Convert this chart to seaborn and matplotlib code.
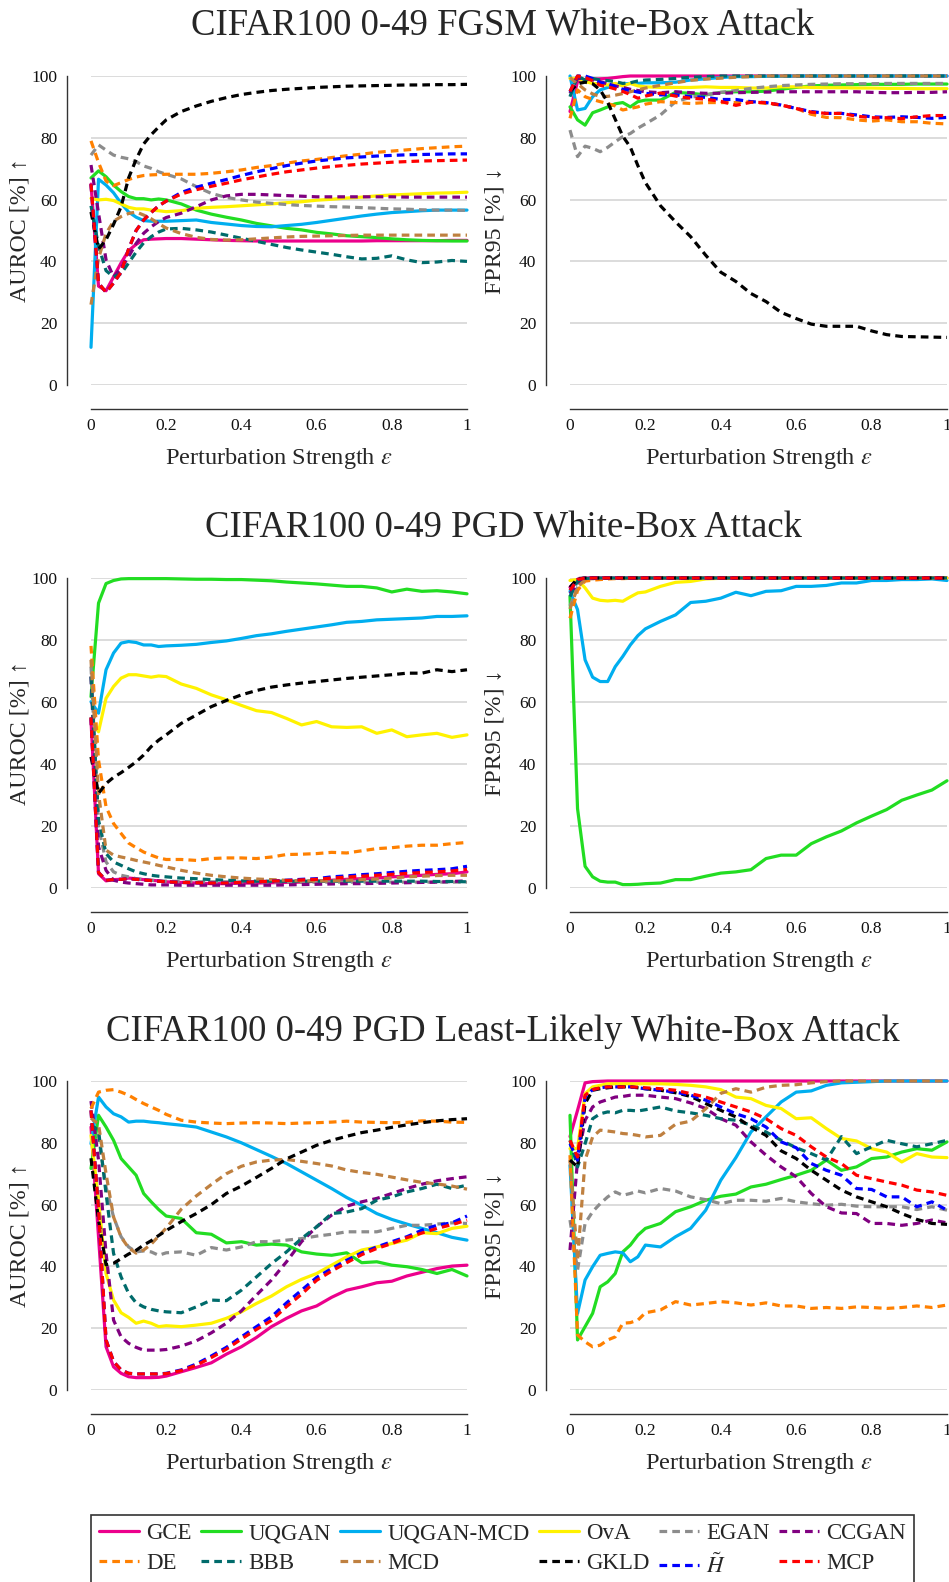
import matplotlib
matplotlib.use("Agg")
import matplotlib.pyplot as plt
from matplotlib.lines import Line2D
import pandas as pd
import seaborn as sns

# ---------------------------------------------------------------- data
EPS = [0, 0.02, 0.04, 0.06, 0.08, 0.10, 0.12, 0.14, 0.16, 0.18, 0.20, 0.24, 0.28,
       0.32, 0.36, 0.40, 0.44, 0.48, 0.52, 0.56, 0.60, 0.64, 0.68, 0.72, 0.76, 0.80,
       0.84, 0.88, 0.92, 0.96, 1.0]
XTICKS = [0, 0.2, 0.4, 0.6, 0.8, 1.0]
XTICKLABELS = ["0", "0.2", "0.4", "0.6", "0.8", "1"]
YTICKS = [0, 20, 40, 60, 80, 100]

METHODS = ["GCE", "UQGAN", "UQGAN-MCD", "OvA", "EGAN", "CCGAN",
           "DE", "BBB", "MCD", "GKLD", r"$\tilde{H}$", "MCP"]
COLORS = ["#ec008c", "#22dd22", "#00aeef", "#fff200", "#8c8c8c", "#800080",
          "#ff8000", "#006b6b", "#bf8040", "#000000", "#0000ff", "#ff0000"]
SOLID = ["GCE", "UQGAN", "UQGAN-MCD", "OvA"]

TITLES = ["CIFAR100 0-49 FGSM White-Box Attack",
          "CIFAR100 0-49 PGD White-Box Attack",
          "CIFAR100 0-49 PGD Least-Likely White-Box Attack"]
YLABELS = [r"AUROC [%] ↑", r"FPR95 [%] ↓"]
XLABEL = r"Perturbation Strength $\epsilon$"

# FGSM, AUROC
fa_gce = [65, 32, 30.5, 35, 39.5, 43.5, 45.5, 47, 47.2, 47.3, 47.4, 47.4, 47.2, 47, 46.8, 46.7, 46.6, 46.6, 46.6, 46.6, 46.6, 46.6, 46.6, 46.6, 46.7, 46.7, 46.7, 46.7, 46.7, 46.8, 46.8]
fa_uqgan = [67, 69.3, 67.4, 64.7, 62.6, 61, 60.3, 60.3, 59.9, 60.2, 59.9, 58.6, 56.6, 55.3, 54.3, 53.4, 52.3, 51.5, 50.7, 50.2, 49.4, 48.9, 48.3, 48, 47.7, 47.3, 47, 46.8, 46.7, 46.6, 46.6]
fa_uqganmcd = [12.2, 66.6, 64.7, 62.2, 58.8, 56, 54.3, 53.2, 53, 53, 53, 53.2, 53.4, 52.6, 52.1, 51.6, 51.3, 51.2, 51.6, 52, 52.6, 53.3, 54, 54.7, 55.3, 55.8, 56.1, 56.4, 56.6, 56.6, 56.6]
fa_ova = [60.4, 59.9, 60.1, 59.7, 58.6, 57.5, 57, 57, 56.6, 56.4, 56.1, 56.4, 57.2, 57.5, 57.7, 58, 58.3, 58.6, 59, 59.3, 59.8, 60.1, 60.5, 60.8, 61.2, 61.5, 61.7, 61.9, 62.1, 62.2, 62.4]
fa_egan = [74.4, 77.7, 76, 74.4, 73.7, 73.2, 72.3, 70.9, 70.1, 69, 68.2, 66.7, 64.2, 62, 60.7, 59.9, 59.2, 58.8, 58.4, 58.1, 57.9, 57.7, 57.6, 57.4, 57.2, 57, 56.9, 56.7, 56.6, 56.6, 56.5]
fa_ccgan = [71.2, 55.6, 40.5, 35, 37.8, 41.5, 45.8, 49.1, 51.2, 52.9, 54.2, 55.6, 57.7, 59.9, 61.2, 61.7, 61.7, 61.5, 61.3, 61.1, 60.9, 60.9, 60.9, 60.9, 60.9, 60.9, 60.8, 60.8, 60.8, 60.8, 60.8]
fa_de = [79, 72, 66, 64.5, 65.5, 66.5, 67.3, 67.8, 68, 68.1, 68.2, 68.2, 68.2, 68.5, 69, 69.6, 70.4, 71, 71.8, 72.5, 73, 73.6, 74.2, 74.7, 75.3, 75.7, 76.1, 76.5, 76.8, 77.1, 77.3]
fa_bbb = [58, 45, 37, 35, 36, 39.5, 43, 46, 48, 49.5, 50.5, 50.7, 50.2, 49.5, 48.5, 47.5, 46.5, 45.5, 44.5, 43.7, 43, 42.3, 41.5, 40.8, 41, 41.8, 40.5, 39.6, 39.8, 40.3, 40]
fa_mcd = [26, 41, 49, 53, 54.5, 55.5, 56, 55, 53.8, 52.2, 50.8, 49, 47.8, 47.1, 46.9, 47, 47.3, 47.6, 47.9, 48.1, 48.2, 48.3, 48.4, 48.5, 48.5, 48.5, 48.5, 48.5, 48.5, 48.5, 48.5]
fa_gkld = [56, 44, 47, 52, 57.7, 67, 73, 78, 81, 83.5, 85.8, 88.5, 90.3, 91.8, 93, 94, 94.7, 95.3, 95.7, 96, 96.3, 96.5, 96.7, 96.8, 96.9, 97, 97.1, 97.1, 97.2, 97.2, 97.3]
fa_ht = [65, 33, 30, 33, 36.5, 44, 50, 53.4, 55.8, 58, 59.5, 62.3, 64, 65.3, 66.5, 67.8, 69, 70, 71, 71.8, 72.5, 73, 73.5, 73.8, 74.1, 74.3, 74.5, 74.6, 74.7, 74.8, 74.8]
fa_mcp = [65, 33, 30, 33, 36.5, 44, 50, 53.4, 55.8, 58, 59.5, 61.8, 63.2, 64.3, 65.3, 66.4, 67.3, 68.2, 69, 69.6, 70.2, 70.7, 71.1, 71.5, 71.8, 72.1, 72.3, 72.5, 72.6, 72.7, 72.8]

# FGSM, FPR95
ff_gce = [88.5, 98.2, 98.7, 99, 99.1, 99.2, 99.5, 99.8, 100, 100, 100, 100, 100, 100, 100, 100, 100, 100, 100, 100, 100, 100, 100, 100, 100, 100, 100, 100, 100, 100, 100]
ff_uqgan = [90, 85.8, 84.1, 88.1, 89, 90, 91, 91.4, 90, 91.7, 92.2, 92.2, 94.7, 94.4, 93.9, 94.7, 94.9, 94.9, 95.1, 95.7, 96.3, 96.8, 97, 97.1, 97.2, 97.3, 97.3, 97.3, 97.4, 97.4, 97.4]
ff_uqganmcd = [100, 89, 89.5, 93.3, 95.5, 96.3, 97, 97.4, 97.6, 97.6, 97.8, 97.8, 98, 98.7, 99.1, 99.5, 99.8, 99.8, 99.9, 99.9, 100, 100, 100, 100, 100, 100, 100, 100, 100, 100, 100]
ff_ova = [99.2, 99.2, 98.2, 97.6, 97.4, 97.1, 97.6, 96.8, 97.6, 96.8, 96.5, 96.3, 96.3, 96.3, 96.5, 96.3, 96.3, 96.1, 96.1, 96.5, 96.5, 96.3, 96.2, 96.2, 96.1, 96.1, 96, 96, 95.9, 95.9, 95.9]
ff_egan = [82.5, 73.9, 77.3, 76.6, 75.5, 76.9, 78.7, 80.4, 81.4, 83.1, 84.5, 87.4, 91.7, 93.1, 93.9, 94.7, 95.3, 96, 96.5, 96.9, 97.1, 97.3, 97.4, 97.5, 97.5, 97.5, 97.6, 97.6, 97.6, 97.6, 97.6]
ff_ccgan = [94.4, 99.2, 99.2, 98.7, 98.2, 97.4, 96.8, 96.3, 95.7, 95.3, 94.9, 94.6, 94.9, 94.6, 94.4, 94.4, 94.6, 94.7, 94.8, 94.9, 94.9, 94.9, 94.9, 94.9, 94.9, 94.7, 94.6, 94.6, 94.7, 94.7, 94.9]
ff_de = [86.3, 95.5, 93.3, 92.4, 91.7, 91.1, 90.3, 89, 89.5, 90, 90.9, 91.7, 91.4, 91.1, 91.4, 91.4, 91.4, 91.7, 91.1, 90.6, 89.5, 87.6, 86.6, 86.5, 85.8, 85.4, 85.8, 85.2, 85.2, 84.7, 84.5]
ff_bbb = [93.3, 100, 98.7, 99.2, 98.7, 98.5, 98.2, 97.6, 97.8, 98.4, 98.7, 98.9, 99.2, 99.6, 99.8, 100, 100, 100, 100, 100, 100, 100, 100, 100, 100, 100, 100, 100, 100, 100, 100]
ff_mcd = [99.5, 97.5, 95.5, 94.2, 93.4, 93.4, 93.8, 94.3, 94.9, 95.5, 96.1, 97, 97.8, 98.6, 99, 99.3, 99.6, 99.8, 100, 100, 100, 100, 100, 100, 100, 100, 100, 100, 100, 100, 100]
ff_gkld = [95, 97.5, 98, 97.5, 95.5, 91.5, 86, 80.5, 77, 71, 65.5, 58, 52.8, 48, 42, 36.5, 33.5, 29.6, 27, 23.5, 21.5, 19.7, 19, 19, 19, 17.5, 16.3, 15.7, 15.6, 15.5, 15.4]
ff_ht = [94.9, 100, 100, 99.2, 97.8, 97.6, 96.5, 95.7, 95.3, 94.8, 94.4, 93.9, 93.9, 93.3, 93.1, 92.4, 92.4, 91.7, 91.4, 90.6, 89.5, 88.5, 87.9, 87.9, 87.4, 86.8, 86.6, 86.8, 86.6, 86.3, 86.6]
ff_mcp = [95, 100, 99.5, 98.5, 97, 96.5, 95.8, 95, 94, 92.8, 93.5, 94.5, 93.5, 92.8, 92.5, 91.8, 90.5, 91.5, 91.4, 90.6, 89.5, 88.3, 87.9, 87.9, 87, 86.5, 86.5, 86.2, 86.8, 87.2, 87.2]

# PGD, AUROC
pa_gce = [54.2, 4.6, 2.3, 2.7, 2.8, 3.2, 3, 2.7, 2.5, 2.3, 2, 1.8, 1.6, 1.4, 1.4, 1.6, 1.6, 1.7, 1.8, 1.9, 2.2, 2.5, 2.8, 3, 3.2, 3.6, 3.8, 4.1, 4.4, 4.6, 5.2]
pa_uqgan = [61.7, 91.9, 98.2, 99.2, 99.7, 99.8, 99.8, 99.8, 99.8, 99.8, 99.8, 99.7, 99.6, 99.6, 99.5, 99.5, 99.3, 99.1, 98.7, 98.4, 98.1, 97.7, 97.3, 97.3, 96.8, 95.5, 96.4, 95.7, 95.9, 95.5, 94.9]
pa_uqganmcd = [60.1, 56.4, 70.4, 75.8, 79, 79.5, 79.2, 78.4, 78.4, 77.9, 78.1, 78.3, 78.6, 79.2, 79.7, 80.5, 81.4, 82, 82.8, 83.5, 84.2, 84.9, 85.7, 86, 86.5, 86.7, 86.9, 87.1, 87.6, 87.6, 87.8]
pa_ova = [54.7, 50.4, 61.2, 65, 67.7, 68.8, 68.8, 68.4, 68, 68.4, 68.2, 65.8, 64.4, 62.3, 60.7, 58.9, 57.2, 56.6, 54.7, 52.6, 53.7, 52, 51.8, 52, 49.9, 51, 48.8, 49.4, 49.9, 48.6, 49.4]
pa_egan = [71.4, 19.7, 8.4, 5.2, 4.1, 3.6, 3, 2.7, 2.5, 2.3, 2.2, 2.1, 2, 2, 2, 1.9, 1.9, 1.9, 1.9, 1.9, 1.9, 1.9, 1.9, 1.9, 1.9, 1.9, 1.9, 1.9, 1.9, 1.9, 1.9]
pa_ccgan = [68.2, 13.3, 5.7, 2.5, 1.9, 1.6, 1.4, 1.2, 1, 1, 1, 0.9, 0.9, 0.9, 0.9, 0.9, 0.9, 0.9, 1, 1.1, 1.2, 1.3, 1.4, 1.4, 1.5, 1.6, 1.7, 1.8, 1.9, 2.1, 2.3]
pa_de = [78.1, 41.3, 26.2, 20.8, 17.6, 14.5, 13, 11.6, 10.6, 9.7, 9.2, 9.2, 8.9, 9.5, 9.7, 9.7, 9.5, 10, 10.8, 10.9, 11.1, 11.5, 11.3, 12, 12.7, 13, 13.5, 13.8, 13.8, 14.3, 14.7]
pa_bbb = [68.2, 21.9, 11.1, 8.4, 7.3, 6.2, 5.2, 4.6, 4.1, 3.8, 3.6, 3.2, 3, 2.7, 2.5, 2.3, 2.2, 2.2, 2.2, 2.2, 2.2, 2.2, 2.2, 2.2, 2.2, 2.2, 2.2, 2.2, 2.1, 2.1, 2]
pa_mcd = [73.6, 30.5, 12.2, 10.6, 10, 9.5, 8.9, 8.4, 7.9, 7.3, 6.8, 5.7, 4.8, 4.1, 3.6, 3.2, 2.9, 2.7, 2.5, 2.3, 2.3, 2.3, 2.5, 2.7, 2.9, 3.2, 3.6, 3.8, 4, 4.1, 4.1]
pa_gkld = [42.3, 30.5, 33.7, 35.7, 37.2, 38.9, 40.7, 42.9, 45.6, 47.7, 49.4, 53.1, 55.8, 58.5, 60.5, 62.3, 63.7, 64.8, 65.5, 66.1, 66.6, 67.1, 67.6, 68, 68.4, 68.8, 69.3, 69.3, 70.4, 69.8, 70.4]
pa_ht = [55, 5, 2.5, 2.7, 2.8, 3, 2.8, 2.6, 2.4, 2.2, 2, 1.8, 1.7, 1.6, 1.6, 1.8, 2, 2.2, 2.5, 2.8, 3, 3.6, 3.9, 4.3, 4.6, 5, 5.4, 5.7, 5.9, 6.2, 7]
pa_mcp = [55, 5, 2.5, 2.7, 2.8, 3, 2.8, 2.6, 2.4, 2.2, 2, 1.8, 1.7, 1.6, 1.6, 1.8, 2, 2.2, 2.4, 2.6, 2.8, 3.2, 3.5, 3.8, 4.1, 4.4, 4.7, 5, 5.2, 5.5, 6]

# PGD, FPR95
pf_gce = [97, 99.6, 100, 100, 100, 100, 100, 100, 100, 100, 100, 100, 100, 100, 100, 100, 100, 100, 100, 100, 100, 100, 100, 100, 100, 100, 100, 100, 100, 100, 100]
pf_uqgan = [94.1, 25.6, 7, 3.6, 2.2, 1.9, 1.9, 1.1, 1.1, 1.2, 1.4, 1.6, 2.7, 2.7, 3.8, 4.8, 5.2, 5.9, 9.5, 10.6, 10.6, 14.3, 16.5, 18.4, 21, 23.2, 25.3, 28.3, 30, 31.6, 34.6]
pf_uqganmcd = [95.7, 89.8, 73.6, 68, 66.6, 66.6, 71.4, 74.7, 78.4, 81.4, 83.6, 86, 88.1, 92.1, 92.5, 93.5, 95.4, 94.3, 95.7, 95.9, 97.3, 97.3, 97.6, 98.4, 98.4, 99.2, 99.2, 99.5, 99.5, 99.7, 99.2]
pf_ova = [99.2, 99.5, 96.8, 93.5, 92.8, 92.6, 92.8, 92.5, 93.9, 95.2, 95.5, 97.3, 98.6, 98.9, 99.7, 99.9, 100, 100, 100, 100, 100, 100, 100, 100, 100, 100, 100, 100, 100, 100, 100]
pf_egan = [91, 97, 99.5, 99.8, 100, 100, 100, 100, 100, 100, 100, 100, 100, 100, 100, 100, 100, 100, 100, 100, 100, 100, 100, 100, 100, 100, 100, 100, 100, 100, 100]
pf_ccgan = [95, 98, 99.7, 100, 100, 100, 100, 100, 100, 100, 100, 100, 100, 100, 100, 100, 100, 100, 100, 100, 100, 100, 100, 100, 100, 100, 100, 100, 100, 100, 100]
pf_de = [87, 96, 99, 99.3, 99.5, 99.7, 99.8, 99.8, 99.9, 100, 100, 100, 100, 100, 100, 100, 100, 100, 100, 100, 100, 100, 100, 100, 100, 100, 100, 100, 100, 100, 100]
pf_bbb = [94, 99, 99.8, 100, 100, 100, 100, 100, 100, 100, 100, 100, 100, 100, 100, 100, 100, 100, 100, 100, 100, 100, 100, 100, 100, 100, 100, 100, 100, 100, 100]
pf_mcd = [90, 97, 99.5, 99.8, 100, 100, 100, 100, 100, 100, 100, 100, 100, 100, 100, 100, 100, 100, 100, 100, 100, 100, 100, 100, 100, 100, 100, 100, 100, 100, 100]
pf_gkld = [97, 99.8, 100, 100, 100, 100, 100, 100, 100, 100, 100, 100, 100, 100, 100, 100, 100, 100, 100, 100, 100, 100, 100, 100, 100, 100, 100, 100, 100, 100, 100]
pf_ht = [96, 99.5, 100, 100, 100, 100, 100, 100, 100, 100, 100, 100, 100, 100, 100, 100, 100, 100, 100, 100, 100, 100, 100, 100, 100, 100, 100, 100, 100, 100, 100]
pf_mcp = [96, 99.5, 100, 100, 100, 100, 100, 100, 100, 100, 100, 100, 100, 100, 100, 100, 100, 100, 100, 100, 100, 100, 100, 100, 100, 100, 100, 100, 100, 100, 100]

# PGD least-likely, AUROC
la_gce = [85.1, 49.6, 14, 7.5, 5.4, 4.3, 4, 4, 4, 4.1, 4.5, 5.9, 7.3, 8.8, 11.6, 14, 17, 20.5, 23.2, 25.6, 27.2, 30, 32.3, 33.4, 34.7, 35.2, 36.9, 38.1, 39.3, 40.1, 40.4]
la_uqgan = [71.7, 88.9, 85.1, 80.8, 74.9, 72.2, 69.5, 63.6, 60.9, 58.4, 56.3, 55.5, 50.9, 50.4, 47.6, 48, 46.9, 47.2, 46.9, 44.7, 44, 43.6, 44.4, 41.2, 41.5, 40.4, 39.9, 39, 37.7, 39, 36.9]
la_uqganmcd = [79.7, 94.8, 91.6, 89.4, 88.4, 86.7, 87, 87, 86.7, 86.5, 86.2, 85.7, 85.1, 83.5, 81.9, 80, 77.8, 75.6, 73.3, 70.6, 67.9, 65.2, 62.3, 59.8, 57.1, 55.2, 53.7, 52.3, 50.9, 49.4, 48.5]
la_ova = [82.4, 61.4, 37.7, 29.1, 25, 23.5, 21.6, 22.3, 21.6, 20.5, 20.8, 20.5, 21, 21.6, 23.2, 25.3, 28, 30.4, 33.4, 35.8, 37.7, 40.4, 43.1, 45.3, 46.3, 47.4, 48.5, 50.9, 50.6, 52.3, 53]
la_egan = [86.2, 81.9, 65.7, 56, 49.6, 46.3, 44.7, 45, 44.7, 43.6, 44.4, 44.7, 43.6, 46.1, 45.3, 46.3, 48, 48, 48.5, 49, 49.8, 50.4, 51.2, 51.2, 51.2, 52.3, 53.3, 53.3, 53.7, 54.1, 53.9]
la_ccgan = [93.5, 74.4, 44.2, 22.6, 17.2, 15.1, 13.8, 12.9, 12.9, 12.9, 13.1, 14.2, 15.9, 18.5, 21.6, 25.6, 30.7, 35.6, 41.5, 48, 52.8, 56.6, 59.5, 60.9, 62, 63.6, 65.2, 66.6, 67.7, 68.4, 69]
la_de = [91.1, 96.4, 97, 97.2, 96.4, 95.4, 94, 92.7, 91.6, 90.5, 89.2, 87.3, 86.7, 86.4, 86.2, 86.4, 86.5, 86.4, 86.2, 86.4, 86.5, 86.7, 87, 86.7, 86.6, 86.5, 86.6, 87.1, 87, 86.7, 86.6]
la_bbb = [85.7, 84.1, 63.6, 44.2, 36.6, 31.3, 28.2, 26.9, 26.1, 25.6, 25.3, 25, 26.9, 29.1, 28.9, 32.3, 36.6, 40.9, 44.7, 49, 52.8, 57.1, 57.6, 58.7, 61.4, 62.5, 64.1, 65.2, 66.6, 65.2, 66.3]
la_mcd = [88, 86, 70, 56, 49.5, 46, 44.3, 45.3, 47.2, 49.8, 52.4, 58.5, 62.8, 66.5, 70, 72.4, 73.8, 74.4, 74.6, 74, 73.3, 72.5, 71.2, 70.4, 69.8, 68.9, 68, 67.2, 66.7, 66, 65]
la_gkld = [75, 55, 40.5, 41, 42.5, 44, 45.2, 46.9, 48.3, 50, 51.6, 54.5, 57.1, 60, 63.6, 66, 68.8, 71.7, 74.8, 77, 79.2, 80.8, 82.1, 83.3, 84.1, 85, 85.8, 86.5, 87.1, 87.5, 87.8]
la_ht = [90.5, 58.2, 16.2, 9.2, 6.5, 5.4, 5.2, 5.2, 5.2, 5.2, 5.4, 6.5, 8.4, 11, 13.8, 17.2, 20.5, 23.7, 28.2, 32.3, 36.4, 39.3, 42, 44.4, 46.3, 48, 49.6, 51.7, 53.3, 54.1, 56.3]
la_mcp = [90.5, 58.2, 16.2, 9.2, 6.5, 5.4, 5.2, 5.2, 5.2, 5.2, 5.3, 6.3, 8, 10.5, 13.2, 16.5, 19.6, 22.5, 27, 31, 35.5, 38.5, 41.2, 43.8, 45.8, 47.4, 49.3, 50.8, 52.3, 53.5, 55]

# PGD least-likely, FPR95
lf_gce = [82, 90.5, 99.4, 99.8, 99.9, 100, 100, 100, 100, 100, 100, 100, 100, 100, 100, 100, 100, 100, 100, 100, 100, 100, 100, 100, 100, 100, 100, 100, 100, 100, 100]
lf_uqgan = [88.9, 16.2, 20.5, 24.8, 33.4, 35, 37.7, 44.7, 46.9, 50.1, 52.3, 53.9, 57.7, 59.3, 61.4, 62.7, 63.4, 65.7, 66.6, 68.1, 69.5, 71.1, 74.4, 71.1, 72.2, 74.9, 75.4, 77, 78.1, 77.6, 80.3]
lf_uqganmcd = [72.7, 24.8, 35.6, 39.9, 43.6, 44.2, 44.7, 44.4, 41.5, 43.1, 46.9, 46.3, 49.6, 52.3, 58.2, 67.9, 75.2, 83.5, 88.4, 93.2, 96.4, 96.8, 98.6, 99.4, 99.6, 99.8, 100, 100, 100, 100, 100]
lf_ova = [78.1, 78.1, 95.9, 98.1, 98.6, 99.1, 99.1, 99.1, 99.1, 99.1, 99.1, 99.1, 98.9, 98.6, 98.1, 97.2, 94.8, 94.3, 92.1, 91.1, 87.8, 88.1, 84.6, 81.4, 80.6, 78.1, 77, 73.8, 76.5, 75.4, 75.2]
lf_egan = [55, 38.8, 53.9, 57.7, 60.3, 62.5, 64.1, 63, 63.6, 64.4, 63.8, 65.2, 64.4, 62.5, 61.6, 60.3, 61.4, 61.4, 61.1, 62, 60.9, 60.3, 59.8, 60.1, 59.5, 59.3, 59.3, 59.3, 58.4, 59.3, 58.2]
lf_ccgan = [45.3, 74.4, 87.3, 91.6, 93.2, 94, 94.8, 95, 95.4, 95.4, 95.4, 94.8, 94.3, 92.9, 91.1, 87.8, 85.7, 80.3, 76, 72.2, 69, 63.6, 59.3, 57.3, 57.1, 53.9, 53.9, 53.3, 53.9, 55, 54.1]
lf_de = [76, 17.8, 15.6, 14, 14.5, 16.2, 17.2, 21.6, 21.8, 22.6, 25, 25.9, 28.6, 27.5, 28, 28.6, 28.2, 27.5, 28.2, 27.2, 27.2, 26.4, 26.7, 26.4, 26.9, 26.7, 26.4, 26.7, 27.2, 26.7, 27.5]
lf_bbb = [80.8, 72.2, 79.7, 87.8, 89.4, 90, 89.7, 90.5, 90.5, 90.3, 90.7, 91.6, 90.3, 89.7, 88.9, 87.8, 87.3, 85.7, 83.5, 80.8, 78.4, 76.5, 74.4, 82, 76.5, 78.7, 80.8, 79.7, 78.7, 79.7, 80.8]
lf_mcd = [74.4, 42, 74.4, 81.9, 84.1, 83.8, 83.5, 83, 82.8, 82.4, 81.9, 82.4, 86, 87, 91, 96, 97.5, 96.4, 98, 98.6, 98.8, 99.4, 99.8, 100, 100, 100, 100, 100, 100, 100, 100]
lf_gkld = [74.4, 72.2, 92.7, 97, 97.5, 97.8, 98.1, 98.1, 98.1, 97.8, 97.5, 97, 96.2, 95, 92.7, 90.5, 88.4, 85.1, 82.4, 77.4, 74.9, 71.1, 67.9, 64.7, 62.5, 60.9, 59.3, 57.1, 55.2, 53.9, 53.6]
lf_ht = [79.7, 74.4, 94.8, 97.2, 97.8, 98.1, 98.1, 98.1, 98.1, 97.8, 97.5, 97, 96.4, 95.4, 93.8, 91.6, 89.4, 87.8, 85.1, 80.3, 78.4, 73.3, 71.1, 69.5, 65.2, 64.9, 62.5, 62.5, 59.3, 60.9, 58.2]
lf_mcp = [80.8, 75.4, 95.4, 97.2, 97.8, 98.1, 98.1, 98.1, 98.1, 98, 97.8, 97.5, 97, 95.9, 94.8, 93.2, 91.6, 90, 87.8, 84.6, 82.4, 78.7, 75.4, 73.3, 69.5, 68.4, 67.3, 66.3, 64.7, 64.1, 63]

PANELS = [
    [fa_gce, fa_uqgan, fa_uqganmcd, fa_ova, fa_egan, fa_ccgan, fa_de, fa_bbb, fa_mcd, fa_gkld, fa_ht, fa_mcp],
    [ff_gce, ff_uqgan, ff_uqganmcd, ff_ova, ff_egan, ff_ccgan, ff_de, ff_bbb, ff_mcd, ff_gkld, ff_ht, ff_mcp],
    [pa_gce, pa_uqgan, pa_uqganmcd, pa_ova, pa_egan, pa_ccgan, pa_de, pa_bbb, pa_mcd, pa_gkld, pa_ht, pa_mcp],
    [pf_gce, pf_uqgan, pf_uqganmcd, pf_ova, pf_egan, pf_ccgan, pf_de, pf_bbb, pf_mcd, pf_gkld, pf_ht, pf_mcp],
    [la_gce, la_uqgan, la_uqganmcd, la_ova, la_egan, la_ccgan, la_de, la_bbb, la_mcd, la_gkld, la_ht, la_mcp],
    [lf_gce, lf_uqgan, lf_uqganmcd, lf_ova, lf_egan, lf_ccgan, lf_de, lf_bbb, lf_mcd, lf_gkld, lf_ht, lf_mcp],
]

# ---------------------------------------------------------------- style
sns.set_style("white")
plt.rcParams["font.family"] = ["Liberation Serif", "DejaVu Serif"]
plt.rcParams["mathtext.fontset"] = "stix"

DASH = (2.4, 1.6)
PALETTE = dict(zip(METHODS, COLORS))
DASHES = {m: ("" if m in SOLID else DASH) for m in METHODS}
LW = 2.3
AXCOL = "#333333"

W, H = 949, 1582
fig = plt.figure(figsize=(W / 100, H / 100), dpi=100)

COL_X = [(91, 467), (570, 947)]
ROW_Y = [(76, 385), (578, 888), (1081, 1390)]
TITLE_BASE = [36, 538, 1041]
YLABEL_X = [20, 495]
XLABEL_DROP = 79  # px from the zero line down to the x-label baseline

for i, series in enumerate(PANELS):
    r, c = divmod(i, 2)
    x0, x1 = COL_X[c]
    y0, y1 = ROW_Y[r]
    ax = fig.add_axes([x0 / W, 1 - y1 / H, (x1 - x0) / W, (y1 - y0) / H])

    df = pd.DataFrame({
        "eps": EPS * len(METHODS),
        "value": [v for s in series for v in s],
        "method": [m for m in METHODS for _ in EPS],
    })
    sns.lineplot(data=df, x="eps", y="value", hue="method", style="method",
                 hue_order=METHODS, style_order=METHODS, palette=PALETTE,
                 dashes=DASHES, estimator=None, errorbar=None, sort=False,
                 legend=False, linewidth=LW, clip_on=False, ax=ax)

    ax.set_xlim(0, 1)
    ax.set_ylim(0, 100)
    ax.set_xticks(XTICKS)
    ax.set_xticklabels(XTICKLABELS)
    ax.set_yticks(YTICKS)
    ax.set_axisbelow(True)
    ax.yaxis.grid(True, color="#d2d2d2", lw=1.1)
    ax.xaxis.grid(False)

    for side in ("top", "right"):
        ax.spines[side].set_visible(False)
    for side in ("left", "bottom"):
        ax.spines[side].set_position(("outward", 17.3))
        ax.spines[side].set_color(AXCOL)
        ax.spines[side].set_linewidth(1.0)

    ax.tick_params(axis="both", direction="in", length=6.5, width=1.0,
                   color=AXCOL, labelsize=12.5, labelcolor="#111111")
    ax.tick_params(axis="y", pad=7)
    ax.tick_params(axis="x", pad=6.5)

    ax.set_xlabel(XLABEL, fontsize=17.6, va="baseline", ha="center")
    ax.xaxis.set_label_coords(0.5, -XLABEL_DROP / (y1 - y0))
    ax.set_ylabel(YLABELS[c], fontsize=17.2, va="center", ha="center")
    ax.yaxis.set_label_coords((YLABEL_X[c] - x0) / (x1 - x0), 0.5)

for r in range(3):
    fig.text(503 / W, 1 - TITLE_BASE[r] / H, TITLES[r], fontsize=26.5,
             ha="center", va="baseline")

# legend laid out row by row (matplotlib fills columns first)
ORDER = ["GCE", "DE", "UQGAN", "BBB", "UQGAN-MCD", "MCD",
         "OvA", "GKLD", "EGAN", r"$\tilde{H}$", "CCGAN", "MCP"]
handles = []
for m in ORDER:
    h = Line2D([0], [0], color=PALETTE[m], lw=LW)
    if m not in SOLID:
        h.set_dashes(DASH)
    handles.append(h)
leg = fig.legend(handles, ORDER, ncol=6, loc="upper left",
                 bbox_to_anchor=(91 / W, 1 - 1515 / H), frameon=True,
                 fancybox=False, edgecolor=AXCOL, framealpha=1, fontsize=16.5,
                 handlelength=1.75, handletextpad=0.3, columnspacing=0.42,
                 borderpad=0.35, labelspacing=0.4, borderaxespad=0)
leg.get_frame().set_linewidth(1.2)

fig.savefig("out.png", dpi=100)
